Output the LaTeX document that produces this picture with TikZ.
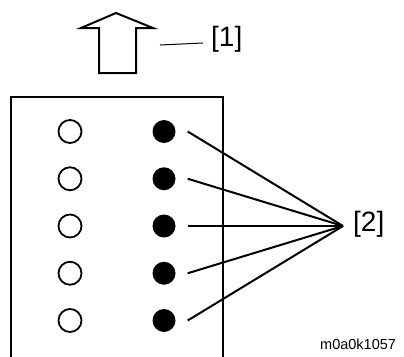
\documentclass[tikz,border=0pt]{standalone}
\usepackage{fontspec}
\setmainfont{Liberation Sans}
\usetikzlibrary{positioning}
\tikzset{
  hole/.style={circle, draw, line width=1.8pt, minimum size=23pt, inner sep=0pt},
  pin/.style={circle, fill=black, minimum size=23pt, inner sep=0pt},
  frame/.style={line width=2pt},
  wire/.style={line width=2pt},
  lead/.style={line width=1pt},
  callout/.style={font=\fontsize{28}{30}\selectfont, inner sep=0pt},
  code/.style={font=\fontsize{14.5}{16}\selectfont, inner sep=0pt},
}
\begin{document}
\begin{tikzpicture}[x=1pt, y=-1pt]
\useasboundingbox (0,0) rectangle (404,356);
% hollow arrow and its callout
\draw[line width=2pt, line join=miter] (116,13) -- (81,28) -- (99,28) -- (99,73)
  -- (136,73) -- (136,28) -- (153,28) -- cycle;
\node[callout, anchor=west] (n1) at (211,39) {[1]};
\coordinate (lead1) at (160,45);
\draw[lead] (lead1) -- ([xshift=-8pt, yshift=-4pt]n1.west);
% frame, open at the bottom
\draw[frame] (11,357) -- (11,97) -- (223,97) -- (223,357);
% two columns of holes
\node[hole] (h1) at (70,131.5) {};
\node[hole] (h2) at (70,178.75) {};
\node[hole] (h3) at (70,226) {};
\node[hole] (h4) at (70,273.25) {};
\node[hole] (h5) at (70,320.5) {};
\node[pin] (p1) at (164,131.5) {};
\node[pin] (p2) at (164,178.75) {};
\node[pin] (p3) at (164,226) {};
\node[pin] (p4) at (164,273.25) {};
\node[pin] (p5) at (164,320.5) {};
% callout for the filled row
\coordinate (focus) at (343,226);
\node[callout, right=10pt of focus, yshift=2pt] (n2) {[2]};
\draw[wire] ([xshift=12pt]p1.east) -- (focus);
\draw[wire] ([xshift=12pt]p2.east) -- (focus);
\draw[wire] ([xshift=12pt]p3.east) -- (focus);
\draw[wire] ([xshift=12pt]p4.east) -- (focus);
\draw[wire] ([xshift=12pt]p5.east) -- (focus);
\node[code, anchor=base west] (tag) at (320,349) {m0a0k1057};
\end{tikzpicture}
\end{document}
